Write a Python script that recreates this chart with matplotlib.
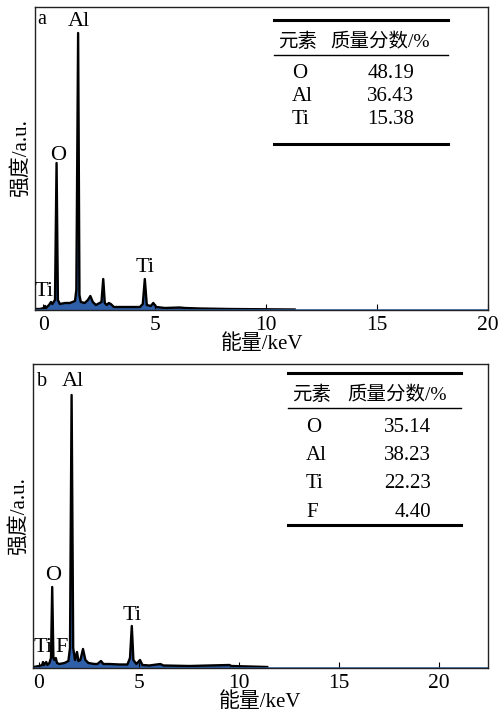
import numpy as np
import matplotlib
matplotlib.use('Agg')
import matplotlib.pyplot as plt
from matplotlib.lines import Line2D

# ---- Spectrum (a): energy in keV, intensity in a.u. ----
energy_a = [-0.34, -0.16, 0.02, 0.07, 0.11, 0.25, 0.34, 0.40, 0.52, 0.59, 0.65,
            0.74, 0.97, 1.19, 1.42, 1.48, 1.56, 1.62, 1.68, 1.86, 2.00, 2.11,
            2.22, 2.36, 2.61, 2.69, 2.76, 2.85, 2.94, 3.03, 3.17, 3.44, 4.34,
            4.47, 4.56, 4.65, 4.83, 4.94, 5.08, 5.46, 6.13, 6.36, 7.03, 8.38,
            11.3]
counts_a = [1, 1, 2, 4, 2, 5, 8, 6, 10, 147, 10,
            6, 7, 7, 9, 20, 277, 15, 8, 7, 10, 14,
            8, 5, 8, 31, 7, 5, 7, 6, 3, 3, 3,
            6, 31, 5, 4, 7, 3, 2, 2.5, 2, 1.5, 1,
            0.5]

# ---- Spectrum (b) ----
energy_b = [-0.27, 0.02, 0.16, 0.20, 0.25, 0.36, 0.42, 0.52, 0.60, 0.66, 0.72,
            0.77, 0.84, 0.90, 1.02, 1.27, 1.47, 1.55, 1.63, 1.71, 1.80, 1.90,
            1.97, 2.07, 2.20, 2.32, 2.47, 2.77, 2.92, 3.10, 3.22, 3.52, 4.02,
            4.42, 4.55, 4.64, 4.72, 4.87, 5.05, 5.17, 5.52, 6.07, 6.22, 7.52,
            9.52, 9.62, 11.41]
counts_b = [1, 2, 3, 6, 3, 6, 3, 5, 10, 81, 10,
            8, 10, 5, 4, 5, 7, 20, 273, 20, 8, 16,
            7, 8, 19, 8, 5, 4, 4, 7, 4, 4, 3.5,
            3.5, 10, 42, 8, 4, 8, 3, 2.5, 4, 2.5, 2,
            3, 2, 1]

# ---- Composition tables ----
elements_a = ['O', 'Al', 'Ti']
mass_a = ['48.19', '36.43', '15.38']
elements_b = ['O', 'Al', 'Ti', 'F']
mass_b = ['35.14', '38.23', '22.23', '4.40']

W, H = 499, 720
FAM = ['Liberation Serif', 'Noto Sans CJK SC']
plt.rcParams['font.family'] = FAM
plt.rcParams['axes.unicode_minus'] = False

fig = plt.figure(figsize=(W / 100, H / 100), dpi=100)


def fx(x):
    return x / W


def fy(y):
    return 1 - y / H


def ftext(x, y, s, size=15, ha='center', va='center', **kw):
    fig.text(fx(x), fy(y), s, fontsize=size, ha=ha, va=va, family=FAM, **kw)


def fline(x0, x1, y, lw):
    fig.add_artist(Line2D([fx(x0), fx(x1)], [fy(y), fy(y)], color='black',
                          linewidth=lw, transform=fig.transFigure))


FILL = '#2f5fa8'


def spectrum_axes(rect, energy, counts, xlim, ylim):
    ax = fig.add_axes(rect)
    ax.fill_between(energy, 0, counts, color=FILL, linewidth=0)
    ax.plot(energy, counts, color='black', linewidth=1.7, solid_joinstyle='round')
    ax.axhline(0.4, color=FILL, linewidth=1.8)
    ax.set_xlim(*xlim)
    ax.set_ylim(*ylim)
    ax.set_xticks([0, 5, 10, 15, 20])
    ax.set_yticks([])
    ax.tick_params(axis='x', direction='in', length=4, width=0.8,
                   labelsize=15.5, pad=4, colors='black')
    for lab in ax.get_xticklabels():
        lab.set_family(FAM)
    for sp in ax.spines.values():
        sp.set_linewidth(1.0)
        sp.set_color('#222222')
    return ax


# panel a: box from x=35..488, y=7..310 px
ax_a = spectrum_axes([fx(35), fy(310), (488 - 35) / W, (310 - 7) / H],
                     energy_a, counts_a, (-0.38, 20.0), (0, 303))
ax_a.set_xlabel('能量/keV', fontsize=15, labelpad=0)
ax_a.set_ylabel('强度/a.u.', fontsize=15, labelpad=3)

# panel b: box from x=33..488, y=364..668 px
ax_b = spectrum_axes([fx(33), fy(668), (488 - 33) / W, (668 - 364) / H],
                     energy_b, counts_b, (-0.3, 22.45), (0, 304))
ax_b.set_xlabel('能量/keV', fontsize=15, labelpad=0)
ax_b.set_ylabel('强度/a.u.', fontsize=15, labelpad=3)

# peak labels
ftext(42, 19, 'a', size=14.5)
ftext(79, 21, 'Al', size=16)
ftext(58, 155, 'O', size=16)
ftext(145, 268, 'Ti', size=16)
ftext(44, 292, 'Ti', size=16)

ftext(42, 382, 'b', size=14.5)
ftext(73, 382, 'Al', size=16)
ftext(53, 575, 'O', size=16)
ftext(132, 615, 'Ti', size=16)
ftext(43, 647, 'Ti', size=16)
ftext(62, 648, 'F', size=16)

# table a
fline(274, 448, 20, 2.2)
ftext(278, 42, '元素', size=14, ha='left')
ftext(330, 42, '质量分数/%', size=14, ha='left')
fline(274, 448, 55, 1.0)
for i, (el, m) in enumerate(zip(elements_a, mass_a)):
    y = 73 + i * 23.5
    ftext(292, y, el, size=15, ha='left')
    ftext(414, y, m, size=15, ha='right')
fline(274, 448, 144, 2.2)

# table b
fline(288, 461, 373, 2.2)
ftext(292, 395, '元素', size=14, ha='left')
ftext(347, 395, '质量分数/%', size=14, ha='left')
fline(288, 461, 408, 1.0)
for i, (el, m) in enumerate(zip(elements_b, mass_b)):
    y = 427 + i * 28.5
    ftext(306, y, el, size=15, ha='left')
    ftext(431, y, m, size=15, ha='right')
fline(288, 461, 525, 2.2)

fig.savefig('out.png', dpi=100)
